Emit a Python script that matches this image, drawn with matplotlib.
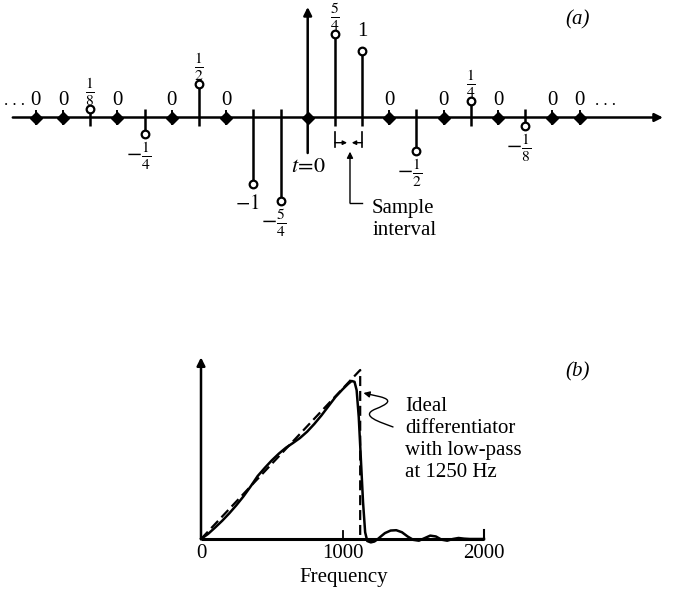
import numpy as np
import matplotlib
matplotlib.use("Agg")
import matplotlib.pyplot as plt
from matplotlib.path import Path
from matplotlib.patches import FancyArrowPatch

plt.rcParams['font.family'] = ['Liberation Serif', 'DejaVu Serif']
plt.rcParams['mathtext.fontset'] = 'stix'

# ---------------- data ----------------
# (a) sampled impulse response of the differentiator
sample_index = list(range(-10, 11))
sample_value = [0, 0, 1/8, 0, -1/4, 0, 1/2, 0, -1, -5/4,
                0, 5/4, 1, 0, -1/2, 0, 1/4, 0, -1/8, 0, 0]
sample_label = ['0', '0', r'$\frac{1}{8}$', '0', r'$-\frac{1}{4}$', '0', r'$\frac{1}{2}$', '0',
                r'$-1$', r'$-\frac{5}{4}$', '', r'$\frac{5}{4}$', '1', '0', r'$-\frac{1}{2}$',
                '0', r'$\frac{1}{4}$', '0', r'$-\frac{1}{8}$', '0', '0']

# (b) frequency response (normalised amplitude)
freq_actual = [0, 50, 100, 150, 200, 250, 300, 350, 400, 450, 500, 550, 600, 650, 700,
               750, 800, 850, 900, 950, 1000, 1040, 1065, 1085, 1100, 1115, 1130, 1145,
               1160, 1175, 1200, 1225, 1250, 1275, 1300, 1340, 1380, 1420, 1460, 1500,
               1540, 1580, 1620, 1660, 1700, 1740, 1780, 1820, 1860, 1900, 1950, 2000]
amp_actual = [0, 0.030, 0.068, 0.108, 0.152, 0.200, 0.252, 0.310, 0.372, 0.420, 0.465,
              0.505, 0.540, 0.568, 0.598, 0.635, 0.680, 0.730, 0.785, 0.840, 0.885,
              0.918, 0.935, 0.930, 0.880, 0.720, 0.470, 0.220,
              0.040, -0.012, -0.020, -0.015, 0.000, 0.018, 0.035, 0.050, 0.052, 0.040,
              0.015, -0.005, -0.010, 0.005, 0.020, 0.015, -0.004, -0.010, 0.000, 0.006,
              0.002, 0.000, 0.000, 0.000]
freq_ideal = [0, 1125, 1125]
amp_ideal = [0, 1.0, 0]
freq_ticks = [0, 1000, 2000]
freq_ticklabels = ['0', '1000', '2000']

# ---------------- figure ----------------
W, H = 674, 598
fig = plt.figure(figsize=(W / 100, H / 100), dpi=100)

LW = 1.8
FS = 15
FS_FRAC = 16
U = 67.0   # pixels per unit in panel (a)

# ---- panel (a) ----
ax1 = fig.add_axes([0, 1 - 260 / H, 1, 260 / H])
ax1.set_xlim(-307.7 / 27.18, (W - 307.7) / 27.18)
ax1.set_ylim(-142.5 / U, 117.5 / U)
ax1.axis('off')

# horizontal time axis with arrow
ax1.annotate('', xy=(13.07, 0), xytext=(-10.85, 0),
             arrowprops=dict(arrowstyle='-|>', lw=LW, color='k', mutation_scale=12,
                             shrinkA=0, shrinkB=0))
# vertical axis at t = 0
ax1.annotate('', xy=(0, 1.649), xytext=(0, -0.530),
             arrowprops=dict(arrowstyle='-|>', lw=LW, color='k', mutation_scale=12,
                             shrinkA=0, shrinkB=0))

for n, v, lab in zip(sample_index, sample_value, sample_label):
    is_frac = 'frac' in lab
    fs = FS_FRAC if is_frac else FS
    if v == 0:
        ax1.plot([n, n], [-0.095, 0.095], color='k', lw=1.4, zorder=3)
        ax1.plot(n, 0, marker='D', ms=6.5, color='k', zorder=4)
        if lab:
            ax1.text(n, 0.187, lab, ha='center', va='baseline', fontsize=FS)
    else:
        s = np.sign(v)
        ax1.plot([n, n], [-0.13 * s, v], color='k', lw=LW, zorder=3,
                 solid_capstyle='butt')
        ax1.plot(n, v, marker='o', ms=5.5, mfc='white', mec='k', mew=1.6, zorder=5)
        if v > 0:
            off = 0.28 if lab == '1' else 0.245
            ax1.text(n, v + off, lab, ha='center', va='center', fontsize=fs)
        else:
            off = 0.33 if is_frac else 0.30
            ax1.text(n + 0.22, v - off, lab, ha='right', va='center', fontsize=fs)

ax1.text(-10.4, 0.187, '. . .', ha='right', va='baseline', fontsize=12)
ax1.text(10.57, 0.187, '. . .', ha='left', va='baseline', fontsize=12)
ax1.text(0.03, -0.739, r'$t\!=\!0$', ha='center', va='center', fontsize=FS + 1)
ax1.text(9.91, 1.455, '(a)', ha='center', va='center', fontsize=FS, style='italic')

# sample interval marker
for n in (1, 2):
    ax1.plot([n, n], [-0.216, -0.440], color='k', lw=1.2)
ax1.annotate('', xy=(1.45, -0.376), xytext=(1.0, -0.376),
             arrowprops=dict(arrowstyle='-|>', lw=1.0, color='k', mutation_scale=6,
                             shrinkA=0, shrinkB=0))
ax1.annotate('', xy=(1.62, -0.376), xytext=(2.0, -0.376),
             arrowprops=dict(arrowstyle='-|>', lw=1.0, color='k', mutation_scale=6,
                             shrinkA=0, shrinkB=0))
ax1.annotate('', xy=(1.556, -0.510), xytext=(1.556, -1.276),
             arrowprops=dict(arrowstyle='-|>', lw=1.0, color='k', mutation_scale=9,
                             shrinkA=0, shrinkB=0))
ax1.plot([1.556, 1.98], [-1.276, -1.276], color='k', lw=1.0)
ax1.text(2.37, -1.522, 'Sample\ninterval', ha='left', va='center', fontsize=FS,
         linespacing=1.2)

# ---- panel (b) ----
ax2 = fig.add_axes([0, 0, 1, 298 / H])
ax2.set_xlim(-201 / 0.1415, (W - 201) / 0.1415)
ax2.set_ylim(-59 / 169, 239 / 169)
ax2.axis('off')

ax2.annotate('', xy=(0, 1.075), xytext=(0, 0),
             arrowprops=dict(arrowstyle='-|>', lw=LW, color='k', mutation_scale=12,
                             shrinkA=0, shrinkB=0))
ax2.plot([0, 2000], [0, 0], color='k', lw=LW + 0.4, solid_capstyle='butt')
ax2.plot([1000, 1000], [0, 0.05], color='k', lw=1.3)
ax2.plot([2000, 2000], [0, 0.055], color='k', lw=1.5)
for f, lab in zip(freq_ticks, freq_ticklabels):
    ax2.text(f, -0.083, lab, ha='center', va='center', fontsize=FS)
ax2.text(1007, -0.225, 'Frequency', ha='center', va='center', fontsize=FS)

ideal_line, = ax2.plot(freq_ideal, amp_ideal, color='k', lw=1.6)
ideal_line.set_dashes([4.5, 2.2])
ax2.plot(freq_actual, amp_actual, color='k', lw=LW, solid_joinstyle='round')

ax2.text(1442, 0.589, 'Ideal\ndifferentiator\nwith low-pass\nat 1250 Hz',
         ha='left', va='center', fontsize=FS, linespacing=1.2)
ax2.text(2664, 0.988, '(b)', ha='center', va='center', fontsize=FS, style='italic')

squiggle = Path([(1357, 0.663), (1265, 0.692), (1120, 0.728), (1230, 0.768),
                 (1320, 0.798), (1360, 0.822), (1265, 0.842), (1148, 0.864)],
                [Path.MOVETO, Path.CURVE4, Path.CURVE4, Path.CURVE4,
                 Path.CURVE4, Path.CURVE4, Path.CURVE4, Path.LINETO])
arrow = FancyArrowPatch(path=squiggle, arrowstyle='-|>', mutation_scale=9,
                        lw=1.0, color='k', transform=ax2.transData)
ax2.add_patch(arrow)

fig.savefig('out.png', dpi=100, facecolor='white')
